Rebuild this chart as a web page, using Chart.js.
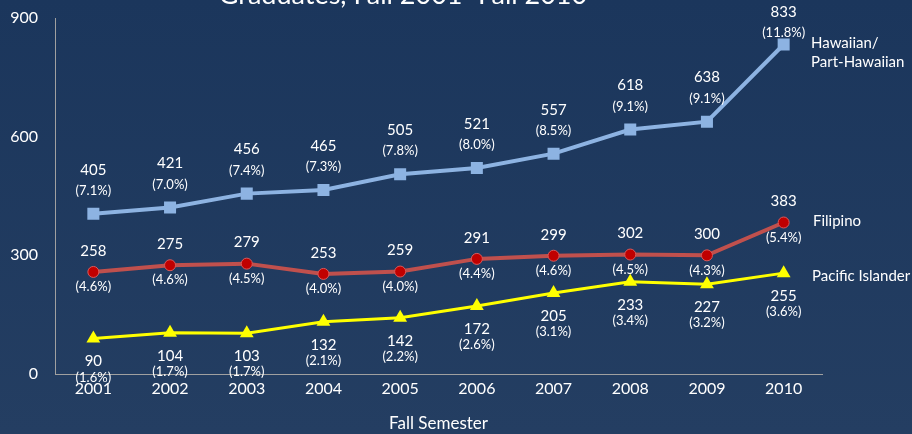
<!DOCTYPE html>
<html>
<head>
<meta charset="utf-8">
<script src="https://cdn.jsdelivr.net/npm/chart.js@4/dist/chart.umd.min.js"></script>
<style>
  html, body { margin: 0; padding: 0; }
  body { width: 912px; height: 434px; background: linear-gradient(#1b365c, #243e62); overflow: hidden; }
</style>
</head>
<body>
<canvas id="chart" width="912" height="434"></canvas>
<script>
// data
const years = ['2001', '2002', '2003', '2004', '2005', '2006', '2007', '2008', '2009', '2010'];
const hawaiian = [405, 421, 456, 465, 505, 521, 557, 618, 638, 833];
const hawaiianPct = ['7.1', '7.0', '7.4', '7.3', '7.8', '8.0', '8.5', '9.1', '9.1', '11.8'];
const filipino = [258, 275, 279, 253, 259, 291, 299, 302, 300, 383];
const filipinoPct = ['4.6', '4.6', '4.5', '4.0', '4.0', '4.4', '4.6', '4.5', '4.3', '5.4'];
const pacific = [90, 104, 103, 132, 142, 172, 205, 233, 227, 255];
const pacificPct = ['1.6', '1.7', '1.7', '2.1', '2.2', '2.6', '3.1', '3.4', '3.2', '3.6'];
const yTicks = [0, 300, 600, 900];

const FONT = 'Lato, "Open Sans", sans-serif';

// where the two labels go for each series (offset from the point)
const labelSpots = [
  { pct: hawaiianPct, valDy: -44, pctDy: -23 },
  { pct: filipinoPct, valDy: -21, pctDy: 15 },
  { pct: pacificPct, valDy: 23, pctDy: 39 }
];

const pointLabels = {
  id: 'pointLabels',
  afterDatasetsDraw(chart) {
    const ctx = chart.ctx;
    ctx.save();
    ctx.fillStyle = '#ffffff';
    ctx.textAlign = 'center';
    ctx.textBaseline = 'middle';
    chart.data.datasets.forEach((ds, i) => {
      const spot = labelSpots[i];
      chart.getDatasetMeta(i).data.forEach((pt, j) => {
        // keep labels inside the top edge, like the original does for 833
        let shift = 0;
        if (pt.y + spot.valDy < 12) shift = 12 - (pt.y + spot.valDy);
        ctx.font = '15px ' + FONT;
        ctx.fillText(ds.data[j], pt.x, pt.y + spot.valDy + shift);
        ctx.font = '13px ' + FONT;
        ctx.fillText('(' + spot.pct[j] + '%)', pt.x, pt.y + spot.pctDy + shift);
      });
    });
    // series names at right
    ctx.textAlign = 'left';
    ctx.font = '15px ' + FONT;
    ctx.fillText('Hawaiian/', 811, 43);
    ctx.fillText('Part-Hawaiian', 811, 62);
    ctx.fillText('Filipino', 813, 221);
    ctx.fillText('Pacific Islander', 812, 276);
    // title, cut off at the top like the slide
    ctx.textAlign = 'center';
    ctx.textBaseline = 'alphabetic';
    ctx.font = '27px ' + FONT;
    ctx.fillText('Graduates, Fall 2001\u2013Fall 2010', 403, 4);
    ctx.restore();
  }
};

new Chart(document.getElementById('chart'), {
  type: 'line',
  data: {
    labels: years,
    datasets: [
      {
        label: 'Hawaiian/Part-Hawaiian',
        data: hawaiian,
        borderColor: '#8db3e2',
        backgroundColor: '#8db3e2',
        borderWidth: 4,
        pointStyle: 'rect',
        pointRadius: 8.5,
        pointBorderWidth: 0,
        tension: 0
      },
      {
        label: 'Filipino',
        data: filipino,
        borderColor: '#c0504d',
        backgroundColor: '#c00000',
        pointBorderColor: '#d95a5a',
        borderWidth: 4,
        pointStyle: 'circle',
        pointRadius: 5.5,
        pointBorderWidth: 1,
        tension: 0
      },
      {
        label: 'Pacific Islander',
        data: pacific,
        borderColor: '#ffff00',
        backgroundColor: '#ffff00',
        borderWidth: 3,
        pointStyle: 'triangle',
        pointRadius: 8,
        pointBorderWidth: 0,
        tension: 0
      }
    ]
  },
  options: {
    responsive: false,
    animation: false,
    layout: { padding: { top: 18, right: 90, left: 0, bottom: 0 } },
    plugins: {
      legend: { display: false },
      tooltip: { enabled: false }
    },
    scales: {
      x: {
        offset: true,
        grid: { display: false, drawTicks: false },
        border: { color: '#a0a0a0', width: 1 },
        ticks: { color: '#ffffff', font: { family: FONT, size: 16 }, padding: 5 },
        title: {
          display: true,
          text: 'Fall Semester',
          color: '#ffffff',
          font: { family: FONT, size: 17 },
          padding: { top: 0, bottom: 0 }
        },
        afterFit(scale) { scale.height = 60; }
      },
      y: {
        min: 0,
        max: 900,
        // invisible tick marks keep the labels away from the axis
        grid: { display: true, drawOnChartArea: false, drawTicks: true, tickLength: 17, tickColor: 'rgba(0,0,0,0)' },
        border: { color: '#a0a0a0', width: 1 },
        afterBuildTicks(scale) { scale.ticks = yTicks.map(v => ({ value: v })); },
        ticks: { color: '#ffffff', font: { family: FONT, size: 16 }, padding: 0 },
        afterFit(scale) { scale.width = 55; }
      }
    }
  },
  plugins: [pointLabels]
});
</script>
</body>
</html>
